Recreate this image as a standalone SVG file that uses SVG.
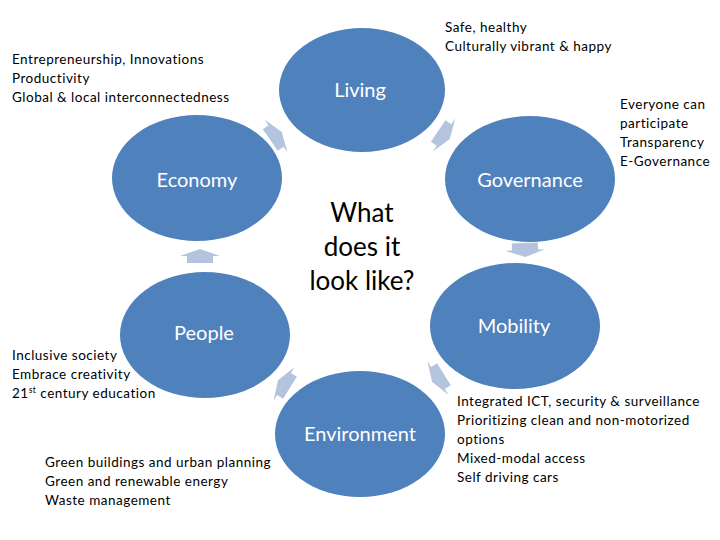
<svg xmlns="http://www.w3.org/2000/svg" width="720" height="540" viewBox="0 0 720 540">
<defs>
<style>
.node{fill:#4f81bd;}
.lbl{fill:#ffffff;font-family:Lato,"Liberation Sans",sans-serif;font-size:20px;text-anchor:middle;}
.ctr{fill:#000000;font-family:Lato,"Liberation Sans",sans-serif;font-size:26px;text-anchor:middle;}
.note{fill:#000000;font-family:Lato,"Liberation Sans",sans-serif;font-size:13.5px;letter-spacing:0.5px;}
.arr{fill:#b4c3de;}
</style>
<polygon id="ar" points="-13,7 13,7 13,0 20,0 0,-7 -20,0 -13,0"/>
</defs>
<rect width="720" height="540" fill="#ffffff"/>
<g id="connectors">
<use href="#ar" class="arr" transform="translate(276,136) rotate(55)"/>
<use href="#ar" class="arr" transform="translate(444,135) rotate(124)"/>
<use href="#ar" class="arr" transform="translate(525,250) rotate(178)"/>
<use href="#ar" class="arr" transform="translate(438,378) rotate(-122)"/>
<use href="#ar" class="arr" transform="translate(284,384) rotate(-58)"/>
<use href="#ar" class="arr" transform="translate(200,256) rotate(0)"/>
</g>
<g id="living"><ellipse class="node" cx="362" cy="90" rx="83" ry="62"/><text class="lbl" x="360" y="97">Living</text></g>
<g id="economy"><ellipse class="node" cx="197" cy="178" rx="85" ry="63"/><text class="lbl" x="197" y="187">Economy</text></g>
<g id="governance"><ellipse class="node" cx="530" cy="179" rx="85" ry="63"/><text class="lbl" x="530" y="187">Governance</text></g>
<g id="people"><ellipse class="node" cx="205" cy="335" rx="85" ry="63"/><text class="lbl" x="204" y="340">People</text></g>
<g id="mobility"><ellipse class="node" cx="515" cy="326" rx="85" ry="63"/><text class="lbl" x="514" y="333">Mobility</text></g>
<g id="environment"><ellipse class="node" cx="360" cy="434" rx="85" ry="63"/><text class="lbl" x="360" y="441">Environment</text></g>
<g id="center">
<text class="ctr" x="362" y="222">What</text>
<text class="ctr" x="362" y="256">does it</text>
<text class="ctr" x="362" y="290">look like?</text>
</g>
<g id="notes">
<text class="note" x="445" y="32">Safe, healthy</text>
<text class="note" x="445" y="51">Culturally vibrant &amp; happy</text>
<text class="note" x="12" y="64">Entrepreneurship, Innovations</text>
<text class="note" x="12" y="83">Productivity</text>
<text class="note" x="12" y="102">Global &amp; local interconnectedness</text>
<text class="note" x="620" y="109">Everyone can</text>
<text class="note" x="620" y="128">participate</text>
<text class="note" x="620" y="147">Transparency</text>
<text class="note" x="620" y="166">E-Governance</text>
<text class="note" x="12" y="360">Inclusive society</text>
<text class="note" x="12" y="379">Embrace creativity</text>
<text class="note" x="12" y="398">21<tspan font-size="8.5" dy="-5">st</tspan><tspan dy="5"> century education</tspan></text>
<text class="note" x="45" y="467">Green buildings and urban planning</text>
<text class="note" x="45" y="486">Green and renewable energy</text>
<text class="note" x="45" y="505">Waste management</text>
<text class="note" x="457" y="406">Integrated ICT, security &amp; surveillance</text>
<text class="note" x="457" y="425">Prioritizing clean and non-motorized</text>
<text class="note" x="457" y="444">options</text>
<text class="note" x="457" y="463">Mixed-modal access</text>
<text class="note" x="457" y="482">Self driving cars</text>
</g>
</svg>
